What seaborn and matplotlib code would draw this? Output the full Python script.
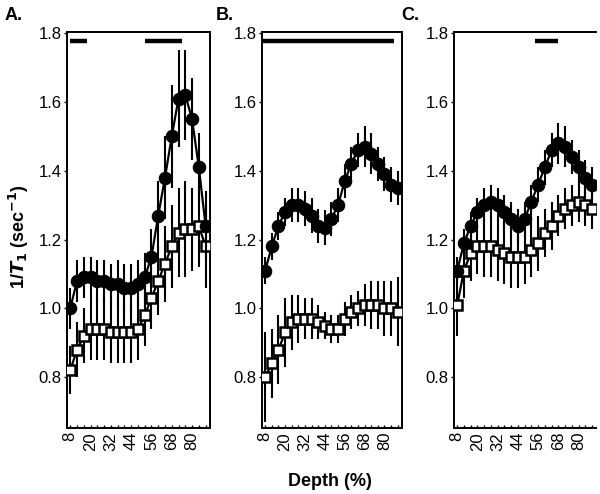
import numpy as np
import pandas as pd
import matplotlib
matplotlib.use("Agg")
import matplotlib.pyplot as plt
import seaborn as sns

# depth (%) sampled every 4 %
depth = [8, 12, 16, 20, 24, 28, 32, 36, 40, 44, 48, 52, 56, 60, 64, 68, 72, 76, 80, 84, 88]

# panel A
a_circ = [1.00, 1.08, 1.09, 1.09, 1.08, 1.08, 1.07, 1.07, 1.06, 1.06, 1.07,
          1.09, 1.15, 1.27, 1.38, 1.50, 1.61, 1.62, 1.55, 1.41, 1.24]
a_circ_err = [0.06, 0.06, 0.06, 0.06, 0.06, 0.06, 0.06, 0.07, 0.07, 0.07, 0.07,
              0.07, 0.08, 0.10, 0.12, 0.15, 0.14, 0.13, 0.12, 0.10, 0.10]
a_sq = [0.82, 0.88, 0.92, 0.94, 0.94, 0.94, 0.93, 0.93, 0.93, 0.93, 0.94,
        0.98, 1.03, 1.08, 1.13, 1.18, 1.22, 1.23, 1.23, 1.24, 1.18]
a_sq_err = [0.07, 0.08, 0.08, 0.09, 0.09, 0.09, 0.09, 0.09, 0.09, 0.09, 0.09,
            0.09, 0.09, 0.10, 0.11, 0.12, 0.13, 0.14, 0.12, 0.12, 0.12]
a_bars = [(8, 18), (52, 74)]

# panel B
b_circ = [1.11, 1.18, 1.24, 1.28, 1.30, 1.30, 1.29, 1.27, 1.24, 1.235, 1.26,
          1.30, 1.37, 1.42, 1.46, 1.47, 1.45, 1.42, 1.39, 1.36, 1.35]
b_circ_err = [0.04, 0.04, 0.04, 0.04, 0.05, 0.05, 0.05, 0.05, 0.05, 0.05, 0.05,
              0.05, 0.05, 0.05, 0.05, 0.06, 0.06, 0.05, 0.05, 0.05, 0.05]
b_sq = [0.80, 0.84, 0.88, 0.93, 0.96, 0.97, 0.97, 0.97, 0.96, 0.95, 0.94,
        0.94, 0.97, 0.99, 1.00, 1.01, 1.01, 1.01, 1.00, 1.00, 0.99]
b_sq_err = [0.13, 0.10, 0.10, 0.10, 0.08, 0.07, 0.06, 0.06, 0.05, 0.04, 0.04,
            0.04, 0.05, 0.05, 0.05, 0.06, 0.07, 0.07, 0.08, 0.08, 0.10]
b_bars = [(6.5, 86)]

# panel C
c_circ = [1.11, 1.19, 1.24, 1.28, 1.30, 1.31, 1.30, 1.28, 1.26, 1.24, 1.26,
          1.31, 1.36, 1.41, 1.46, 1.48, 1.47, 1.44, 1.41, 1.38, 1.36]
c_circ_err = [0.04, 0.04, 0.04, 0.04, 0.05, 0.05, 0.05, 0.05, 0.05, 0.05, 0.05,
              0.05, 0.05, 0.05, 0.05, 0.06, 0.06, 0.05, 0.05, 0.05, 0.05]
c_sq = [1.01, 1.11, 1.16, 1.18, 1.18, 1.18, 1.17, 1.16, 1.15, 1.15, 1.15,
        1.17, 1.19, 1.22, 1.24, 1.27, 1.29, 1.30, 1.31, 1.30, 1.29]
c_sq_err = [0.09, 0.08, 0.08, 0.08, 0.09, 0.09, 0.09, 0.09, 0.09, 0.09, 0.08,
            0.08, 0.08, 0.07, 0.07, 0.06, 0.06, 0.06, 0.06, 0.06, 0.06]
c_bars = [(54, 68)]

xticks = [8, 20, 32, 44, 56, 68, 80]
yticks = [0.8, 1.0, 1.2, 1.4, 1.6, 1.8]

sns.set_style("ticks")
plt.rcParams['font.family'] = ['Liberation Sans', 'DejaVu Sans']
plt.rcParams.update({'text.color': 'black', 'axes.labelcolor': 'black',
                     'xtick.color': 'black', 'ytick.color': 'black',
                     'axes.edgecolor': 'black'})

fig = plt.figure(figsize=(6.0, 4.94), dpi=100)
ax_pos = [[0.112, 0.134, 0.238, 0.801],
          [0.437, 0.134, 0.233, 0.801],
          [0.757, 0.134, 0.237, 0.801]]

panels = [("A.", a_circ, a_circ_err, a_sq, a_sq_err, a_bars),
          ("B.", b_circ, b_circ_err, b_sq, b_sq_err, b_bars),
          ("C.", c_circ, c_circ_err, c_sq, c_sq_err, c_bars)]

label_x = [0.008, 0.36, 0.668]

for i, (lab, circ, circ_err, sq, sq_err, bars) in enumerate(panels):
    ax = fig.add_axes(ax_pos[i])
    df = pd.DataFrame({'Depth': depth, 'circ': circ, 'sq': sq})

    # squares (open)
    ax.errorbar(depth, sq, yerr=sq_err, fmt='none', ecolor='black', elinewidth=1.5, zorder=2)
    sns.lineplot(data=df, x='Depth', y='sq', ax=ax, color='black', lw=1.6,
                 marker='s', markersize=7.5, markerfacecolor='white',
                 markeredgecolor='black', markeredgewidth=1.8, zorder=3)
    # circles (filled)
    ax.errorbar(depth, circ, yerr=circ_err, fmt='none', ecolor='black', elinewidth=1.5, zorder=4)
    sns.lineplot(data=df, x='Depth', y='circ', ax=ax, color='black', lw=1.6,
                 marker='o', markersize=9, markerfacecolor='black',
                 markeredgecolor='black', zorder=5)

    # significance bars
    for x0, x1 in bars:
        ax.plot([x0, x1], [1.778, 1.778], color='black', lw=3.2, solid_capstyle='butt', zorder=6)

    ax.set_xlim(6.2, 90.6)
    ax.set_ylim(0.653, 1.803)
    ax.set_xticks(xticks)
    ax.set_xticklabels([str(t) for t in xticks], rotation=90, fontsize=12)
    ax.set_xticks(depth, minor=True)
    ax.set_yticks(yticks)
    ax.set_yticklabels(['%.1f' % t for t in yticks], fontsize=12)
    ax.tick_params(axis='x', which='both', direction='in', length=2.5, width=1, pad=3)
    ax.tick_params(axis='y', which='major', direction='out', length=2, width=1, pad=2)
    ax.set_xlabel('')
    ax.set_ylabel('')
    for s in ax.spines.values():
        s.set_linewidth(1.4)
    if i == 2:
        ax.spines['right'].set_visible(False)

    fig.text(label_x[i], 0.985, lab, fontsize=13, fontweight='bold', va='top', ha='left')

fig.text(0.032, 0.52, r'1/$\mathbfit{T}_{\mathbf{1}}$ (sec$^{\mathbf{-1}}$)', rotation=90,
         fontsize=13, fontweight='bold', ha='center', va='center')
fig.text(0.55, 0.025, 'Depth (%)', fontsize=13, fontweight='bold', ha='center', va='center')

fig.savefig('out.png', dpi=100)
